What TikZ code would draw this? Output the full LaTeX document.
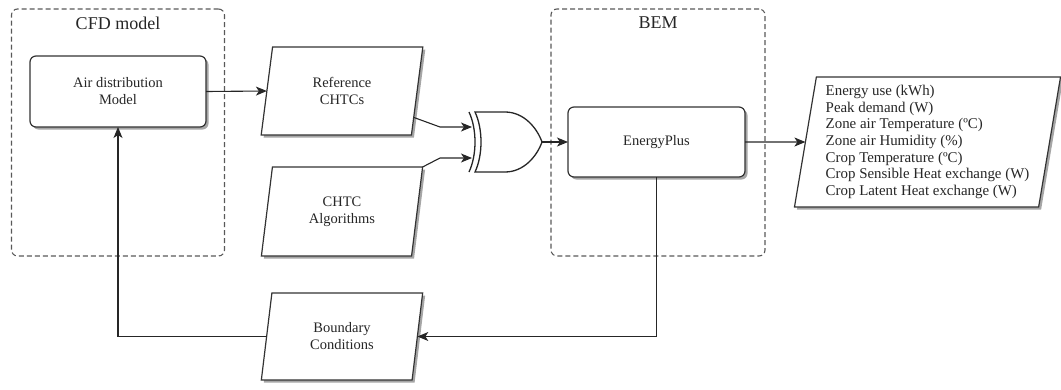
\documentclass[tikz,border=0pt]{standalone}
\usepackage{fontspec}
\setmainfont{Liberation Serif}
\usetikzlibrary{shapes.geometric,shadows,arrows.meta,calc}
\begin{document}
\begin{tikzpicture}[x=1pt,y=-1pt,
  every node/.style={inner sep=0pt, outer sep=0pt},
  txt/.style={font=\fontsize{14.5}{17}\selectfont, text=black!85},
  shade/.style={drop shadow={shadow xshift=2.5pt, shadow yshift=-2.5pt, fill=black!35, opacity=1}},
  procbox/.style={txt, draw=black!80, line width=1.2pt, rounded corners=6pt, fill=white, shade, align=center},
  parabox/.style={txt, draw=black!80, line width=1.2pt, trapezium, trapezium left angle=80, trapezium right angle=100, trapezium stretches=true, fill=white, shade, align=center},
  groupbox/.style={draw=black!65, line width=1.1pt, dash pattern=on 5pt off 3pt, rounded corners=6pt},
  grouplabel/.style={font=\fontsize{18}{20}\selectfont, text=black!85},
  arr/.style={draw=black!85, line width=1.1pt, -{Stealth[length=11pt,width=9pt,inset=3pt]}},
  gate/.style={draw=black!85, line width=1.3pt, fill=white}
]
\useasboundingbox (0,0) rectangle (1061,389);

% groups
\node[groupbox, minimum width=213pt, minimum height=247pt] (cfd) at (118,132.5) {};
\node[grouplabel] (cfdlbl) at (118,23) {CFD model};
\node[groupbox, minimum width=214pt, minimum height=247pt] (bem) at (658,132.5) {};
\node[grouplabel] (bemlbl) at (658,23) {BEM};

% boxes
\node[procbox, minimum width=176pt, minimum height=71pt] (air) at (118,91.5) {Air distribution\\Model};
\node[procbox, minimum width=177pt, minimum height=70pt] (ep) at (656.5,142) {EnergyPlus};

\node[parabox, minimum width=162pt, minimum height=88pt] (ref) at (342,91) {Reference\\CHTCs};
\node[parabox, minimum width=162pt, minimum height=89pt] (chtc) at (342,211.5) {CHTC\\Algorithms};
\node[parabox, minimum width=162pt, minimum height=87pt] (bc) at (342,336.5) {Boundary\\Conditions};
\node[parabox, minimum width=267pt, minimum height=130pt, align=left, font=\fontsize{14.9}{16.7}\selectfont] (out) at (927.5,142)
  {Energy use (kWh)\\Peak demand (W)\\Zone air Temperature (ºC)\\Zone air Humidity (\%)\\Crop Temperature (ºC)\\Crop Sensible Heat exchange (W)\\Crop Latent Heat exchange (W)};

% XOR gate
\path[gate] (475,112) -- (505,112) .. controls (524,112) and (537,128) .. (542,142)
  .. controls (537,156) and (524,172) .. (505,172) -- (475,172)
  .. controls (483,155) and (483,129) .. (475,112) -- cycle;
\draw[gate, fill=none] (469,112) .. controls (477,129) and (477,155) .. (469,172);
\coordinate (in1) at (472,127);
\coordinate (in2) at (472,158);
\coordinate (gout) at (542,142);

% connectors
\draw[arr] (air.east) -- (ref.west);
\draw[arr] ($(ref.bottom right corner)!0.2!(ref.top right corner)$) -- ([xshift=-32pt]in1) -- (in1);
\draw[arr] (chtc.top right corner) -- ([xshift=-32pt]in2) -- (in2);
\draw[arr] (gout) -- (ep.west);
\draw[arr] (ep.east) -- (out.west);
\draw[arr] (ep.south) |- (bc.east);
\draw[arr] (bc.west) -| (air.south);
\end{tikzpicture}
\end{document}
